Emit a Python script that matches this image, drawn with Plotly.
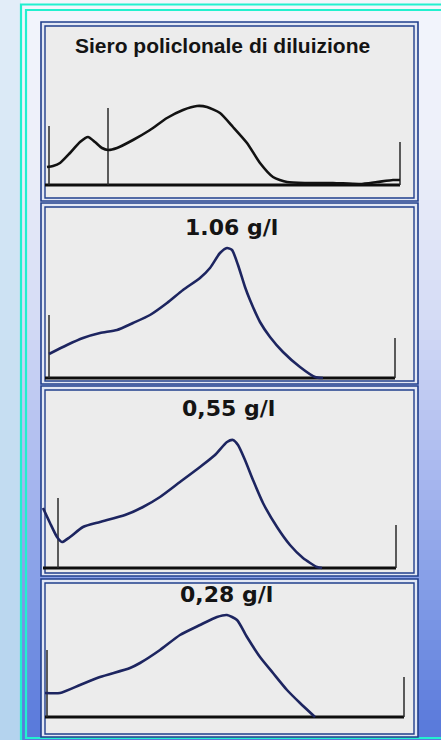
import plotly.graph_objects as go

W, H = 441, 740

# ---------------- data ----------------
# x: position along the strip, y: density above baseline (arbitrary units)
titles = ["Siero policlonale di diluizione", "1.06 g/l", "0,55 g/l", "0,28 g/l"]

p1_x = [6, 12, 19, 29, 39, 47, 54, 61, 67, 76, 92, 109, 126, 142, 156, 166, 179, 192,
        206, 219, 232, 246, 266, 292, 319, 336, 352, 359]
p1_y = [18, 19, 22, 32, 43, 48, 43, 37, 35, 37, 45, 55, 67, 75, 79, 78, 72, 58,
        42, 22, 8, 3, 2, 2, 1, 3, 5, 5]
p1_marks_x = [8, 67, 359]
p1_marks_h = [59, 77, 43]
p1_base = [4, 359]

p2_x = [8, 26, 42, 59, 76, 92, 109, 126, 142, 159, 169, 179, 186, 191, 197, 204, 209,
        219, 229, 242, 259, 274, 282]
p2_y = [24, 33, 40, 45, 48, 55, 63, 75, 88, 100, 110, 125, 130, 128, 113, 91, 78,
        56, 41, 26, 11, 1, 0]
p2_marks_x = [8, 354]
p2_marks_h = [63, 40]
p2_base = [4, 354]

p3_x = [2, 9, 16, 21, 29, 42, 59, 84, 102, 119, 139, 159, 174, 186, 192, 197, 204,
        212, 222, 236, 249, 262, 276, 281]
p3_y = [60, 45, 31, 26, 31, 41, 46, 53, 61, 71, 86, 101, 113, 126, 128, 123, 108,
        88, 65, 41, 23, 10, 1, 0]
p3_marks_x = [17, 355]
p3_marks_h = [70, 43]
p3_base = [2, 355]

p4_x = [4, 19, 39, 59, 89, 99, 119, 139, 159, 176, 186, 196, 206, 219, 232, 246, 259, 274]
p4_y = [24, 24, 32, 40, 49, 54, 67, 82, 92, 100, 102, 97, 80, 60, 44, 27, 14, 0]
p4_marks_x = [6, 363]
p4_marks_h = [67, 40]
p4_base = [4, 363]

curves_x = [p1_x, p2_x, p3_x, p4_x]
curves_y = [p1_y, p2_y, p3_y, p4_y]
marks_x = [p1_marks_x, p2_marks_x, p3_marks_x, p4_marks_x]
marks_h = [p1_marks_h, p2_marks_h, p3_marks_h, p4_marks_h]
bases = [p1_base, p2_base, p3_base, p4_base]

# ---------------- layout geometry (pixels) ----------------
PX_L, PX_R = 41, 418
panels = [  # (top, bottom, baseline)
    (22, 201, 185),
    (203, 384, 378),
    (386, 576, 568),
    (579, 737, 717),
]
title_pos = [(222, 45), (231, 228), (229, 408), (226, 594)]
title_fonts = [
    dict(family="Liberation Sans, Arial, sans-serif", size=21, color="#141414"),
    dict(family="DejaVu Sans, sans-serif", size=22, color="#141414"),
    dict(family="DejaVu Sans, sans-serif", size=22, color="#141414"),
    dict(family="DejaVu Sans, sans-serif", size=22, color="#141414"),
]
curve_colors = ["#121212", "#1d2560", "#1d2560", "#1d2560"]


def fx(x):
    return x / W


def fy(y):
    return 1 - y / H


def hex2rgb(h):
    h = h.lstrip("#")
    return [int(h[i:i + 2], 16) for i in (0, 2, 4)]


def grad(stops, y):
    for (y0, c0), (y1, c1) in zip(stops[:-1], stops[1:]):
        if y0 <= y <= y1:
            t = (y - y0) / (y1 - y0)
            a, b = hex2rgb(c0), hex2rgb(c1)
            return "rgb(%d,%d,%d)" % tuple(round(a[i] + (b[i] - a[i]) * t) for i in range(3))
    return stops[-1][1]


shapes = []
# background gradients
main_stops = [(0, "#f3f5fc"), (160, "#eceff9"), (320, "#d4dbf5"), (470, "#aab9ef"),
              (610, "#7d98e5"), (740, "#5677da")]
left_stops = [(0, "#e2edf8"), (300, "#cde2f3"), (740, "#b4d3ee")]
step = 10
for y in range(0, H, step):
    shapes.append(dict(type="rect", xref="paper", yref="paper", layer="below",
                       x0=fx(0), x1=fx(21), y0=fy(y), y1=fy(y + step + 1),
                       line=dict(width=0), fillcolor=grad(left_stops, y + step / 2)))
    shapes.append(dict(type="rect", xref="paper", yref="paper", layer="below",
                       x0=fx(21), x1=fx(W), y0=fy(y), y1=fy(y + step + 1),
                       line=dict(width=0), fillcolor=grad(main_stops, y + step / 2)))
# cyan double frame
shapes.append(dict(type="rect", xref="paper", yref="paper", layer="below",
                   x0=fx(21), x1=fx(W + 10), y0=fy(4.5), y1=fy(742),
                   line=dict(color="#22f0cf", width=2.2), fillcolor="rgba(0,0,0,0)"))
shapes.append(dict(type="rect", xref="paper", yref="paper", layer="below",
                   x0=fx(26), x1=fx(W + 10), y0=fy(10), y1=fy(738),
                   line=dict(color="#22f0cf", width=2.2), fillcolor="rgba(0,0,0,0)"))

# panels
border = "#213f8c"
for (top, bot, base) in panels:
    shapes.append(dict(type="rect", xref="paper", yref="paper", layer="below",
                       x0=fx(PX_L), x1=fx(PX_R), y0=fy(top), y1=fy(bot),
                       line=dict(color=border, width=1.6), fillcolor="#e3e8f5"))
    shapes.append(dict(type="rect", xref="paper", yref="paper", layer="below",
                       x0=fx(PX_L + 4), x1=fx(PX_R - 4), y0=fy(top + 4), y1=fy(bot - 3),
                       line=dict(color=border, width=1.4), fillcolor="#ececec"))

fig = go.Figure()
layout_axes = {}
annotations = []
for i in range(4):
    top, bot, base = panels[i]
    n = "" if i == 0 else str(i + 1)
    xa, ya = "x" + n, "y" + n
    layout_axes["xaxis" + n] = dict(domain=[fx(PX_L), fx(PX_R)], range=[0, PX_R - PX_L],
                                    visible=False, fixedrange=True, anchor=ya)
    layout_axes["yaxis" + n] = dict(domain=[fy(bot), fy(top)], range=[-(bot - base), base - top],
                                    visible=False, fixedrange=True, anchor=xa)
    # baseline
    fig.add_trace(go.Scatter(x=bases[i], y=[0, 0], mode="lines", xaxis=xa, yaxis=ya,
                             line=dict(color="#0e0e0e", width=3.2), hoverinfo="skip",
                             showlegend=False))
    # vertical fraction marks
    mx, my = [], []
    for x, h in zip(marks_x[i], marks_h[i]):
        mx += [x, x, None]
        my += [0, h, None]
    fig.add_trace(go.Scatter(x=mx, y=my, mode="lines", xaxis=xa, yaxis=ya,
                             line=dict(color="#2a2a2a", width=1.5), hoverinfo="skip",
                             showlegend=False))
    # densitometric curve
    fig.add_trace(go.Scatter(x=curves_x[i], y=curves_y[i], mode="lines", xaxis=xa, yaxis=ya,
                             line=dict(color=curve_colors[i], width=2.6, shape="spline",
                                       smoothing=0.6),
                             hoverinfo="skip", showlegend=False))
    tx, ty = title_pos[i]
    annotations.append(dict(text="<b>" + titles[i] + "</b>", xref="paper", yref="paper",
                            x=fx(tx), y=fy(ty), xanchor="center", yanchor="middle",
                            showarrow=False, font=title_fonts[i]))

fig.update_layout(width=W, height=H, autosize=False,
                  margin=dict(l=0, r=0, t=0, b=0, pad=0),
                  paper_bgcolor="#f0f3fb", plot_bgcolor="rgba(0,0,0,0)",
                  shapes=shapes, annotations=annotations, showlegend=False,
                  **layout_axes)
fig.write_html("out.html", config=dict(displayModeBar=False),
               post_script="document.body.style.margin='0';document.body.style.overflow='hidden';")
